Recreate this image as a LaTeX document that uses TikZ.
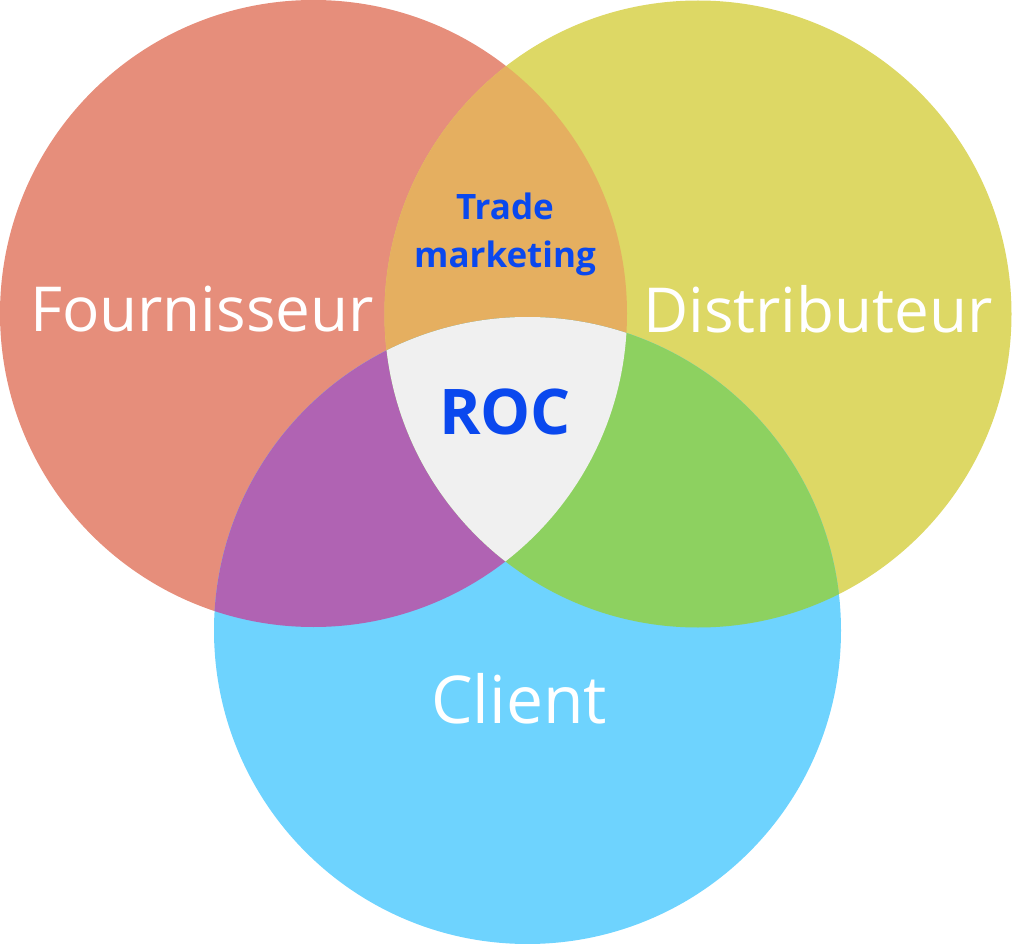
\documentclass[tikz,border=0pt]{standalone}
\usepackage{fontspec}
\setmainfont{Open Sans}
\definecolor{cA}{HTML}{E68E7B}
\definecolor{cB}{HTML}{DDD865}
\definecolor{cC}{HTML}{6ED3FE}
\definecolor{cAB}{HTML}{E5AF60}
\definecolor{cAC}{HTML}{B063B3}
\definecolor{cBC}{HTML}{8DD160}
\definecolor{cABC}{HTML}{F0F0F0}
\definecolor{txtblue}{HTML}{0A48EE}
\tikzset{
  biglabel/.style={text=white, font=\fontsize{62}{62}\selectfont, inner sep=0pt},
  clientlabel/.style={text=white, font=\fontsize{66}{66}\selectfont, inner sep=0pt},
  bluelabel/.style={text=txtblue, font=\bfseries\fontsize{35}{48}\selectfont, inner sep=0pt, align=center},
  roclabel/.style={text=txtblue, font=\bfseries\fontsize{63}{63}\selectfont, inner sep=0pt}
}
\begin{document}
\begin{tikzpicture}[x=1pt,y=-1pt]
\useasboundingbox (0,0) rectangle (1021,944);
\def\rad{313.5}
\coordinate (ca) at (313.5,313.5);
\coordinate (cb) at (698,314);
\coordinate (cc) at (527.5,630.5);
\fill[cA] (ca) circle (\rad);
\fill[cB] (cb) circle (\rad);
\fill[cC] (cc) circle (\rad);
\begin{scope}
  \clip (ca) circle (\rad);
  \fill[cAB] (cb) circle (\rad);
  \fill[cAC] (cc) circle (\rad);
\end{scope}
\begin{scope}
  \clip (cb) circle (\rad);
  \fill[cBC] (cc) circle (\rad);
  \clip (ca) circle (\rad);
  \fill[cABC] (cc) circle (\rad);
\end{scope}
\node[biglabel] (fo) at (202,309) {Fournisseur};
\node[biglabel] (di) at (818,309) {Distributeur};
\node[clientlabel] (cl) at (519,699) {Client};
\node[bluelabel] (tm) at (505,234) {Trade\\marketing};
\node[roclabel] (roc) at (505,412) {ROC};
\end{tikzpicture}
\end{document}
